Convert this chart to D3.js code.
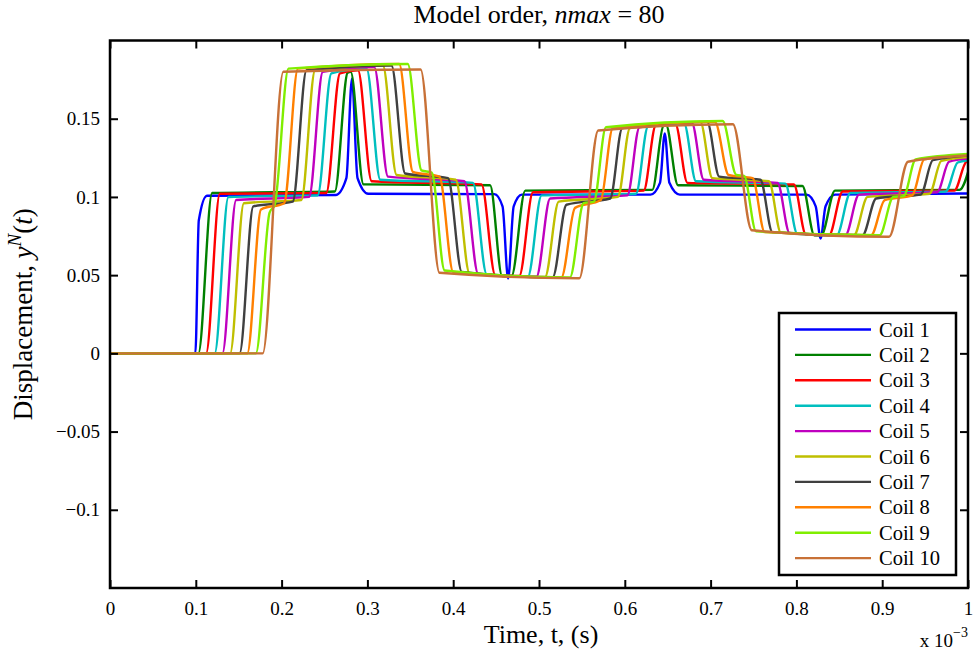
<!DOCTYPE html>
<html>
<head>
<meta charset="utf-8">
<script src="https://cdn.jsdelivr.net/npm/d3@7"></script>
<style>
  body { margin: 0; background: #fff; }
  text { font-family: "Liberation Serif", "Times New Roman", serif; fill: #000; }
</style>
</head>
<body>
<svg id="chart" width="977" height="661"></svg>
<script>
// Coil displacement responses, time in units of 1e-3 s.
// Each series lists the corner points of its plateaus and transitions.
const coilNames = ["Coil 1", "Coil 2", "Coil 3", "Coil 4", "Coil 5",
                   "Coil 6", "Coil 7", "Coil 8", "Coil 9", "Coil 10"];
const coilColors = ["#0000ff", "#008000", "#ff0000", "#00bfbf", "#bf00bf",
                    "#bfbf00", "#404040", "#ff8000", "#80ee00", "#c87137"];
const xTicks = [0, 0.1, 0.2, 0.3, 0.4, 0.5, 0.6, 0.7, 0.8, 0.9, 1];
const yTicks = [-0.1, -0.05, 0, 0.05, 0.1, 0.15];

const coil1 = [[0,0],[0.0995,0],[0.1035,0.085],[0.113,0.1008],[0.263,0.1012],[0.2755,0.112],[0.282,0.1756],
  [0.2885,0.112],[0.301,0.102],[0.448,0.1018],[0.4575,0.094],[0.464,0.0479],[0.4705,0.094],[0.48,0.1015],
  [0.630,0.1015],[0.641,0.109],[0.6466,0.1405],[0.652,0.109],[0.664,0.1015],[0.812,0.1015],[0.8225,0.094],
  [0.8282,0.0734],[0.834,0.094],[0.845,0.1015],[1.0,0.1022]];
const coil2 = [[0,0],[0.103,0],[0.119,0.1025],[0.262,0.1035],[0.277,0.1795],[0.2805,0.180],[0.2955,0.108],
  [0.443,0.1075],[0.457,0.0495],[0.468,0.0495],[0.484,0.104],[0.632,0.1045],[0.645,0.1455],[0.648,0.146],
  [0.662,0.1075],[0.807,0.107],[0.821,0.0755],[0.829,0.0755],[0.845,0.104],[0.990,0.1045],[1.004,0.1235]];
const coil3 = [[0,0],[0.112,0],[0.128,0.102],[0.252,0.1025],[0.268,0.179],[0.289,0.181],[0.305,0.110],
  [0.433,0.108],[0.449,0.050],[0.477,0.0495],[0.493,0.103],[0.622,0.104],[0.636,0.1455],[0.659,0.1465],
  [0.673,0.109],[0.797,0.108],[0.811,0.076],[0.838,0.0755],[0.854,0.1035],[0.984,0.104],[0.998,0.1225],[1.004,0.1235]];
const coil4 = [[0,0],[0.122,0],[0.138,0.100],[0.242,0.101],[0.258,0.179],[0.299,0.182],[0.315,0.111],
  [0.423,0.109],[0.439,0.0505],[0.487,0.049],[0.503,0.101],[0.613,0.102],[0.627,0.145],[0.669,0.147],
  [0.683,0.110],[0.787,0.1085],[0.801,0.0765],[0.847,0.0755],[0.863,0.1025],[0.974,0.1035],[0.988,0.122],[1.0,0.1235]];
const coil5 = [[0,0],[0.131,0],[0.147,0.098],[0.232,0.100],[0.248,0.180],[0.308,0.183],[0.324,0.113],
  [0.413,0.110],[0.429,0.051],[0.497,0.049],[0.513,0.099],[0.603,0.101],[0.617,0.1445],[0.678,0.1475],
  [0.692,0.111],[0.778,0.109],[0.792,0.077],[0.857,0.0755],[0.873,0.1015],[0.964,0.103],[0.978,0.1225],[1.0,0.1245]];
const coil6 = [[0,0],[0.140,0],[0.156,0.096],[0.223,0.098],[0.239,0.181],[0.318,0.184],[0.334,0.114],
  [0.403,0.111],[0.419,0.0512],[0.507,0.0488],[0.523,0.097],[0.592,0.100],[0.606,0.144],[0.688,0.148],
  [0.702,0.112],[0.768,0.110],[0.782,0.077],[0.867,0.0755],[0.883,0.100],[0.955,0.102],[0.969,0.123],[1.0,0.1255]];
const coil7 = [[0,0],[0.151,0],[0.167,0.094],[0.213,0.097],[0.229,0.181],[0.328,0.184],[0.344,0.115],
  [0.394,0.112],[0.410,0.052],[0.516,0.0487],[0.532,0.095],[0.583,0.099],[0.597,0.144],[0.696,0.148],
  [0.710,0.113],[0.758,0.111],[0.772,0.0775],[0.877,0.0755],[0.893,0.099],[0.945,0.1015],[0.959,0.1235],[1.0,0.1265]];
const coil8 = [[0,0],[0.160,0],[0.176,0.092],[0.203,0.096],[0.219,0.182],[0.337,0.185],[0.353,0.116],
  [0.384,0.113],[0.400,0.052],[0.526,0.0485],[0.542,0.093],[0.572,0.098],[0.586,0.144],[0.705,0.148],
  [0.721,0.114],[0.749,0.112],[0.763,0.0775],[0.887,0.0755],[0.903,0.098],[0.935,0.101],[0.949,0.124],[1.0,0.127]];
const coil9 = [[0,0],[0.170,0],[0.186,0.090],[0.192,0.095],[0.208,0.182],[0.347,0.185],[0.363,0.117],
  [0.375,0.1155],[0.390,0.053],[0.536,0.0485],[0.552,0.096],[0.564,0.097],[0.578,0.1445],[0.714,0.1485],
  [0.730,0.114],[0.739,0.1135],[0.753,0.078],[0.897,0.0755],[0.913,0.100],[0.925,0.1005],[0.939,0.124],[1.0,0.1275]];
const coil10 = [[0,0],[0.178,0],[0.202,0.180],[0.362,0.1815],[0.384,0.0515],[0.547,0.048],[0.569,0.1425],
  [0.726,0.1465],[0.748,0.0787],[0.908,0.0745],[0.930,0.1225],[1.0,0.1265]];

const coils = [coil1, coil2, coil3, coil4, coil5, coil6, coil7, coil8, coil9, coil10];

// Layout
const plot = { left: 110, right: 968, top: 40.5, bottom: 588 };
const svg = d3.select("#chart");

const x = d3.scaleLinear().domain([0, 1]).range([plot.left, plot.right]);
const y = d3.scaleLinear().domain([-0.15, 0.2]).range([plot.bottom, plot.top]);

svg.append("defs").append("clipPath").attr("id", "plotClip")
  .append("rect")
  .attr("x", plot.left).attr("y", plot.top)
  .attr("width", plot.right - plot.left).attr("height", plot.bottom - plot.top);

// Curves
const line = d3.line()
  .x(d => x(d[0]))
  .y(d => y(d[1]))
  .curve(d3.curveMonotoneX);

svg.append("g").attr("clip-path", "url(#plotClip)")
  .selectAll("path")
  .data(coils)
  .join("path")
  .attr("d", line)
  .attr("fill", "none")
  .attr("stroke", (d, i) => coilColors[i])
  .attr("stroke-width", 2.4)
  .attr("stroke-linejoin", "round");

// Axes: inward ticks on all four sides
const fmt = d3.format("~g");
function styleAxis(g) {
  g.select(".domain").remove();
  g.selectAll(".tick line").attr("stroke", "#000").attr("stroke-width", 2);
  g.selectAll(".tick text").style("font-size", "19px")
    .style("font-family", "'Liberation Serif','Times New Roman',serif");
}

svg.append("g").attr("transform", `translate(0,${plot.bottom})`)
  .call(d3.axisBottom(x).tickValues(xTicks).tickFormat(fmt).tickSize(-8).tickPadding(14))
  .call(styleAxis);
svg.append("g").attr("transform", `translate(0,${plot.top})`)
  .call(d3.axisTop(x).tickValues(xTicks).tickFormat("").tickSize(-8))
  .call(styleAxis);
svg.append("g").attr("transform", `translate(${plot.left},0)`)
  .call(d3.axisLeft(y).tickValues(yTicks).tickFormat(fmt).tickSize(-8).tickPadding(10))
  .call(styleAxis);
svg.append("g").attr("transform", `translate(${plot.right},0)`)
  .call(d3.axisRight(y).tickValues(yTicks).tickFormat("").tickSize(-8))
  .call(styleAxis);

// Frame
svg.append("rect")
  .attr("x", plot.left).attr("y", plot.top)
  .attr("width", plot.right - plot.left).attr("height", plot.bottom - plot.top)
  .attr("fill", "none").attr("stroke", "#000").attr("stroke-width", 2.5);

// Title
const title = svg.append("text")
  .attr("x", (plot.left + plot.right) / 2).attr("y", 23)
  .attr("text-anchor", "middle").style("font-size", "26px");
title.append("tspan").text("Model order, ");
title.append("tspan").style("font-style", "italic").text("nmax");
title.append("tspan").text(" = 80");

// Axis labels
svg.append("text")
  .attr("x", (plot.left + plot.right) / 2 + 2).attr("y", 643)
  .attr("text-anchor", "middle").style("font-size", "26px")
  .text("Time, t, (s)");

const yLabel = svg.append("text")
  .attr("transform", `translate(32,${(plot.top + plot.bottom) / 2}) rotate(-90)`)
  .attr("text-anchor", "middle").style("font-size", "27px");
yLabel.append("tspan").text("Displacement, ");
yLabel.append("tspan").style("font-style", "italic").text("y");
yLabel.append("tspan").style("font-style", "italic").style("font-size", "19px").attr("dy", -11).text("N");
yLabel.append("tspan").attr("dy", 11).text("(");
yLabel.append("tspan").style("font-style", "italic").text("t");
yLabel.append("tspan").text(")");

// Exponent note for the time axis
const expo = svg.append("text")
  .attr("x", plot.right).attr("y", 647)
  .attr("text-anchor", "end").style("font-size", "19px");
expo.append("tspan").text("x 10");
expo.append("tspan").attr("dy", -10).style("font-size", "14px").text("\u22123");

// Legend
const legend = { x: 779, y: 313, w: 177, h: 262, row0: 329.5, rowGap: 25.4 };
svg.append("rect")
  .attr("x", legend.x).attr("y", legend.y)
  .attr("width", legend.w).attr("height", legend.h)
  .attr("fill", "#fff").attr("stroke", "#000").attr("stroke-width", 2.5);

const rows = svg.append("g").selectAll("g")
  .data(coilNames)
  .join("g")
  .attr("transform", (d, i) => `translate(0,${legend.row0 + i * legend.rowGap})`);
rows.append("line")
  .attr("x1", 795).attr("x2", 871)
  .attr("stroke", (d, i) => coilColors[i]).attr("stroke-width", 2.4);
rows.append("text")
  .attr("x", 879).attr("dy", "0.35em")
  .style("font-size", "20.5px")
  .text(d => d);
</script>
</body>
</html>
